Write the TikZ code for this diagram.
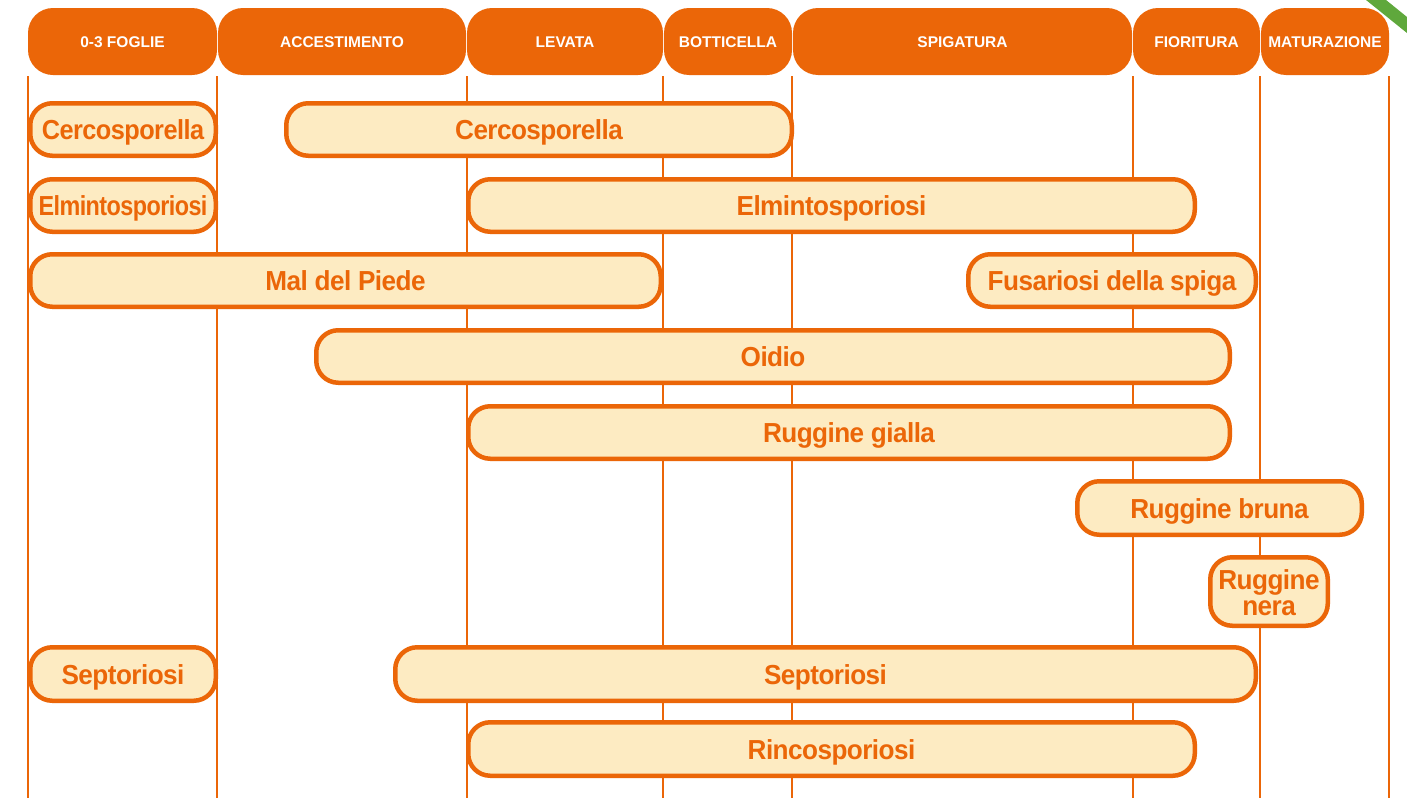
\documentclass[tikz,border=0pt]{standalone}
\usepackage{fontspec}
\setmainfont{Liberation Sans}
\newfontfamily\barfont[LetterSpace=-2,FakeStretch=0.95]{Liberation Sans Bold}
\newfontfamily\barfontB[LetterSpace=-2,FakeStretch=0.92]{Liberation Sans Bold}
\newfontfamily\barfontC[LetterSpace=-2,FakeStretch=0.85]{Liberation Sans Bold}
\newfontfamily\hdrfont{Liberation Sans Bold}
\definecolor{orng}{HTML}{EB6608}
\definecolor{cream}{HTML}{FDEBC2}
\definecolor{leaf}{HTML}{5FA83C}
\tikzset{
  hdr/.style={fill=orng, rounded corners=25pt, inner sep=0pt, text=white, font=\hdrfont\fontsize{15.5}{17}\selectfont, text height=11.5pt, text depth=0pt},
  dbar/.style={draw=orng, line width=4.5pt, fill=cream, rounded corners=22pt, inner sep=0pt, text=orng, align=center, font=\barfont\fontsize{27.5}{27.5}\selectfont, text height=20pt, text depth=0pt},
  narrowB/.style={font=\barfontB\fontsize{27.5}{27.5}\selectfont},
  narrowC/.style={font=\barfontC\fontsize{27.5}{27.5}\selectfont},
  vline/.style={draw=orng, line width=2pt}
}
\newcommand\mkhdr[4]{\node[hdr, minimum width={#3-#2}, minimum height=67] (#1) at ({(#2+#3)/2},41.5) {#4};}
\newcommand\mkbar[7][]{\node[dbar, #1, minimum width={#3-#2-4.5}, minimum height={#5-#4-4.5}] (#2x#3x#4) at ({(#2+#3)/2},{(#4+#5)/2}) {#6#7};}
\begin{document}
\begin{tikzpicture}[x=1pt,y=-1pt]
\useasboundingbox (0,0) rectangle (1407,798);
\fill[white] (0,0) rectangle (1407,798);
% green corner
\fill[leaf] (1366,0) -- (1407,33) -- (1407,17) -- (1386,0) -- cycle;
% vertical grid lines
\foreach \x in {28,217,467,663,792,1133,1260,1389}{
  \draw[vline] (\x,76) -- (\x,798);
}
% headers
\mkhdr{h1}{28}{217}{0-3 FOGLIE}
\mkhdr{h2}{218}{466}{ACCESTIMENTO}
\mkhdr{h3}{467}{663}{LEVATA}
\mkhdr{h4}{664}{792}{BOTTICELLA}
\mkhdr{h5}{793}{1132}{SPIGATURA}
\mkhdr{h6}{1133}{1260}{FIORITURA}
\mkhdr{h7}{1261}{1389}{MATURAZIONE}
% disease bars
\mkbar[narrowB]{28}{218}{101}{158}{Cercosporella}{}
\mkbar{284}{794}{101}{158}{Cercosporella}{}
\mkbar[narrowC]{28}{218}{177}{234}{Elmintosporiosi}{}
\mkbar{466}{1197}{177}{234}{Elmintosporiosi}{}
\mkbar{28}{663}{252}{309}{Mal del Piede}{}
\mkbar{966}{1258}{252}{309}{Fusariosi della spiga}{}
\mkbar{314}{1232}{328}{385}{Oidio}{}
\mkbar{466}{1232}{404}{461}{Ruggine gialla}{}
\mkbar{1075}{1364}{479}{537}{Ruggine bruna}{}
\mkbar[text height=48pt, text depth=0pt]{1208}{1330}{555}{628}{Ruggine\\[-1pt]nera}{}
\mkbar{28}{218}{645}{703}{Septoriosi}{}
\mkbar{393}{1258}{645}{703}{Septoriosi}{}
\mkbar{466}{1197}{720}{778}{Rincosporiosi}{}
\end{tikzpicture}
\end{document}
